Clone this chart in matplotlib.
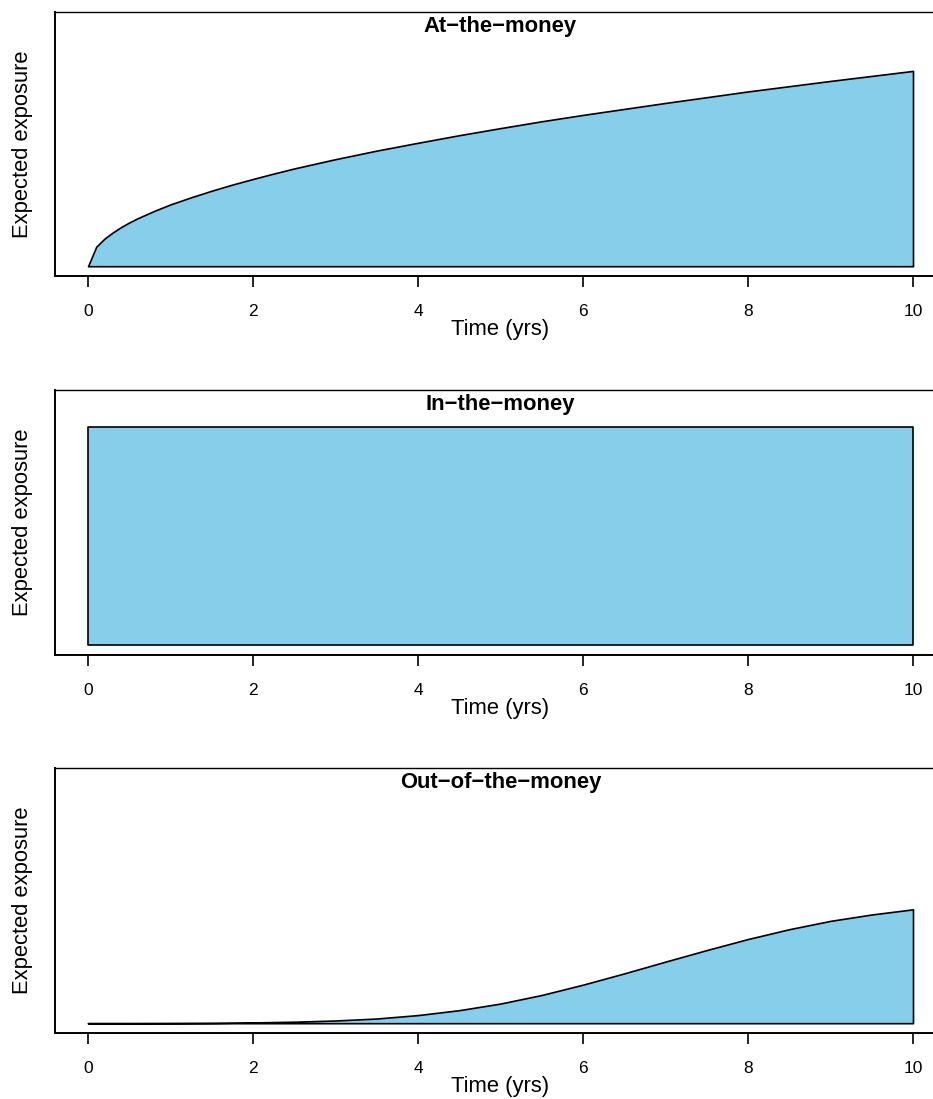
import matplotlib
matplotlib.use("Agg")
import matplotlib.pyplot as plt
import numpy as np

plt.rcParams['font.family'] = ['Liberation Sans', 'DejaVu Sans']

# At-the-money: expected exposure (ylim top = 1)
t_atm = [0, 0.1, 0.2, 0.3, 0.4, 0.5, 0.6, 0.8, 1.0, 1.25, 1.5, 1.75, 2.0, 2.25, 2.5,
         2.75, 3.0, 3.5, 4.0, 4.5, 5.0, 5.5, 6.0, 7.0, 8.0, 9.0, 10.0]
ee_atm = [0, 0.080, 0.113, 0.138, 0.160, 0.179, 0.196, 0.226, 0.253, 0.282, 0.309,
          0.334, 0.357, 0.379, 0.400, 0.419, 0.438, 0.473, 0.505, 0.536, 0.565,
          0.593, 0.619, 0.668, 0.715, 0.758, 0.799]

# In-the-money: flat exposure
t_itm = [0, 10]
ee_itm = [0.888, 0.888]

# Out-of-the-money
t_otm = [0, 0.5, 1.0, 1.5, 2.0, 2.5, 3.0, 3.5, 4.0, 4.5, 5.0, 5.5, 6.0, 6.5,
         7.0, 7.5, 8.0, 8.5, 9.0, 9.5, 10.0]
ee_otm = [0, 0, 0.0003, 0.001, 0.003, 0.006, 0.011, 0.019, 0.033, 0.053, 0.080,
          0.115, 0.157, 0.203, 0.251, 0.298, 0.343, 0.383, 0.417, 0.443, 0.464]

titles = ["At\u2212the\u2212money", "In\u2212the\u2212money", "Out\u2212of\u2212the\u2212money"]
series = [(t_atm, ee_atm), (t_itm, ee_itm), (t_otm, ee_otm)]
xticks = [0, 2, 4, 6, 8, 10]

W, H = 933, 1099
fig = plt.figure(figsize=(W / 100, H / 100), dpi=100)

# panel boxes in pixels (top, bottom); left at 55, right just past the edge
boxes = [(12, 276), (390, 655), (768, 1033)]
left_px, right_px = 55, 946

for (top, bot), title, (t, ee) in zip(boxes, titles, series):
    ax = fig.add_axes([left_px / W, (H - bot) / H, (right_px - left_px) / W, (bot - top) / H])
    ax.fill_between(t, 0, ee, facecolor='#87CEEB', edgecolor='black', linewidth=1.2)
    ax.set_xlim(-0.4, 10.4)
    ax.set_ylim(-0.04, 1.04)
    ax.set_yticks([])
    ax.set_xticks(xticks)
    ax.set_xticklabels([str(x) for x in xticks])
    ax.tick_params(axis='x', direction='out', length=8, width=1.2, pad=12, labelsize=12.5)
    for side in ['left', 'bottom']:
        ax.spines[side].set_linewidth(1.4)
    ax.spines['top'].set_linewidth(1.0)
    ax.set_xlabel("Time (yrs)", fontsize=15.8, labelpad=0)
    ax.text(-0.037, 0.5, "Expected exposure", transform=ax.transAxes, rotation=90,
            ha='center', va='center', fontsize=15.8)
    ax.text(0.5, 0.945, title, transform=ax.transAxes, ha='center', va='center',
            fontsize=15.8, fontweight='bold')

fig.savefig("out.png", dpi=100)
